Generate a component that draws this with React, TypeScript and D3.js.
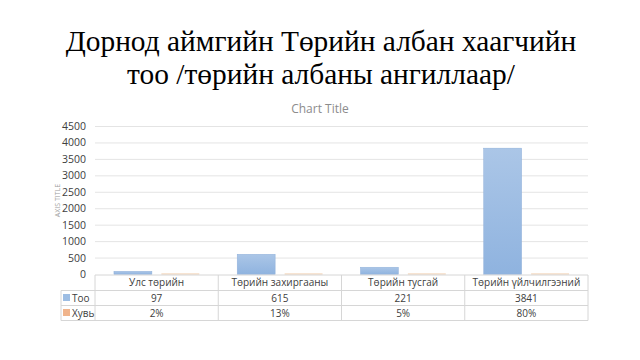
import React from "react";
import * as d3 from "d3";

const categories = ["Улс төрийн", "Төрийн захиргааны", "Төрийн тусгай", "Төрийн үйлчилгээний"];
const tooValues = [97, 615, 221, 3841];
const huviValues = [0.02, 0.13, 0.05, 0.8];
const huviLabels = ["2%", "13%", "5%", "80%"];
const seriesNames = ["Тоо", "Хувь"];
const yTicks = [0, 500, 1000, 1500, 2000, 2500, 3000, 3500, 4000, 4500];

export default function App() {
  const W = 640, H = 360;
  const left = 95, right = 588, top = 126.5, bottom = 274.5;
  const x = d3.scaleBand<string>().domain(categories).range([left, right]);
  const inner = d3.scaleBand<string>().domain(seriesNames).range([0, x.bandwidth()]).paddingInner(0.2).paddingOuter(0.4);
  const y = d3.scaleLinear().domain([0, 4500]).range([bottom, top]);
  const font = "'Open Sans', 'Liberation Sans', sans-serif";
  const rowY = [275, 290.5, 305.5, 320.5];
  const legendLeft = 61;
  const colBounds = [left, ...categories.map((c) => (x(c) as number) + x.bandwidth())];

  return (
    <svg width={W} height={H} style={{ position: "absolute", left: 0, top: 0, background: "#fff" }}>
      <defs>
        <linearGradient id="blueGrad" x1="0" y1="0" x2="0" y2="1">
          <stop offset="0" stopColor="#abc6e7" />
          <stop offset="1" stopColor="#8fb3df" />
        </linearGradient>
      </defs>
      <rect width={W} height={H} fill="#fff" />
      <text x={321} y={51} textAnchor="middle" fontFamily="'Liberation Serif', serif" fontSize={29.4} fill="#000">
        Дорнод аймгийн Төрийн албан хаагчийн
      </text>
      <text x={321} y={84} textAnchor="middle" fontFamily="'Liberation Serif', serif" fontSize={29.4} fill="#000">
        тоо /төрийн албаны ангиллаар/
      </text>
      <text x={320} y={113} textAnchor="middle" fontFamily={font} fontSize={12} fill="#8c8c8c">
        Chart Title
      </text>
      {yTicks.map((t) => (
        <g key={t}>
          {t > 0 && <line x1={left} x2={right} y1={y(t)} y2={y(t)} stroke="#e4e4e4" strokeWidth={1} />}
          <text x={86} y={y(t) + 3.5} textAnchor="end" fontFamily={font} fontSize={10.5} fill="#404040">
            {t}
          </text>
        </g>
      ))}
      <text
        transform={`translate(60,${(top + bottom) / 2}) rotate(-90)`}
        textAnchor="middle"
        fontFamily={font}
        fontSize={7}
        fill="#a0a0a0"
      >
        AXIS TITLE
      </text>
      {categories.map((c, i) => (
        <g key={c}>
          <rect
            x={(x(c) as number) + (inner("Тоо") as number)}
            y={y(tooValues[i])}
            width={inner.bandwidth()}
            height={bottom - y(tooValues[i])}
            fill="url(#blueGrad)"
            stroke="#8fb0da"
            strokeWidth={0.5}
          />
          <rect
            x={(x(c) as number) + (inner("Хувь") as number)}
            y={Math.min(y(huviValues[i]), bottom - 1)}
            width={inner.bandwidth()}
            height={Math.max(bottom - y(huviValues[i]), 1)}
            fill="#efc9a6"
          />
        </g>
      ))}
      {/* data table */}
      <line x1={left} x2={right} y1={rowY[0]} y2={rowY[0]} stroke="#d6d6d6" />
      {[rowY[1], rowY[2], rowY[3]].map((ry) => (
        <line key={ry} x1={legendLeft} x2={right} y1={ry} y2={ry} stroke="#d6d6d6" />
      ))}
      {colBounds.map((cx) => (
        <line key={cx} x1={cx} x2={cx} y1={rowY[0]} y2={rowY[3]} stroke="#d6d6d6" />
      ))}
      <line x1={legendLeft} x2={legendLeft} y1={rowY[1]} y2={rowY[3]} stroke="#d6d6d6" />
      {categories.map((c, i) => (
        <g key={c} fontFamily={font} fontSize={10} fill="#404040" textAnchor="middle">
          <text x={(x(c) as number) + x.bandwidth() / 2} y={rowY[0] + 11}>{c}</text>
          <text x={(x(c) as number) + x.bandwidth() / 2} y={rowY[1] + 11}>{tooValues[i]}</text>
          <text x={(x(c) as number) + x.bandwidth() / 2} y={rowY[2] + 11}>{huviLabels[i]}</text>
        </g>
      ))}
      <rect x={legendLeft + 2} y={rowY[1] + 3.5} width={7} height={7} fill="#9dbde3" />
      <text x={legendLeft + 11} y={rowY[1] + 11} fontFamily={font} fontSize={10} fill="#404040">Тоо</text>
      <rect x={legendLeft + 2} y={rowY[2] + 3.5} width={7} height={7} fill="#f0b48c" />
      <text x={legendLeft + 11} y={rowY[2] + 11} fontFamily={font} fontSize={10} fill="#404040">Хувь</text>
    </svg>
  );
}
